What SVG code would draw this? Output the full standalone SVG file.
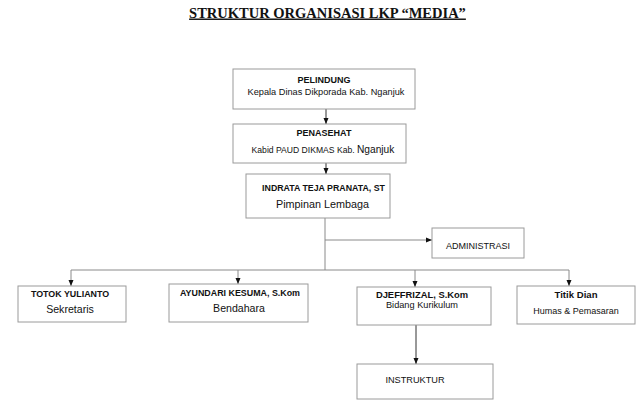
<svg xmlns="http://www.w3.org/2000/svg" width="640" height="403" viewBox="0 0 640 403">
<style>
  .box { fill: #ffffff; stroke: #9a9a9a; stroke-width: 1; }
  .t { font-family: "Liberation Sans", Arial, sans-serif; fill: #111; text-anchor: middle; }
  .b { font-weight: bold; }
  .title { font-family: "Liberation Serif", "Times New Roman", serif; font-weight: bold; font-size: 14.5px; fill: #111; text-anchor: middle; text-decoration: underline; }
  .ln { fill: none; stroke: #8a8a8a; stroke-width: 1; }
  .dk { stroke: #333; }
</style>
<defs>
  <marker id="arr" markerUnits="userSpaceOnUse" markerWidth="6" markerHeight="6" viewBox="0 0 6 6" refX="6" refY="3" orient="auto">
    <path d="M0,0.5 L6,3 L0,5.5 Z" fill="#111"/>
  </marker>
</defs>
<rect width="640" height="403" fill="#ffffff"/>
<text class="title" x="327.5" y="17.5">STRUKTUR ORGANISASI LKP “MEDIA”</text>

<g id="connectors">
  <path class="ln dk" d="M326,109 V124" marker-end="url(#arr)"/>
  <path class="ln dk" d="M326,163 V174" marker-end="url(#arr)"/>
  <path class="ln" d="M325,218 V270"/>
  <path class="ln" d="M325,240 H432" marker-end="url(#arr)"/>
  <path class="ln" d="M71,270 H569"/>
  <path class="ln" d="M71,270 V286" marker-end="url(#arr)"/>
  <path class="ln" d="M238,270 V284" marker-end="url(#arr)"/>
  <path class="ln" d="M415,270 V287" marker-end="url(#arr)"/>
  <path class="ln" d="M569,270 V286" marker-end="url(#arr)"/>
  <path class="ln dk" d="M416,325 V364" marker-end="url(#arr)"/>
</g>

<g id="pelindung">
  <rect class="box" x="233" y="69" width="182" height="40"/>
  <text class="t b" x="324" y="82.5" font-size="9">PELINDUNG</text>
  <text class="t" x="326" y="95" font-size="9.2">Kepala Dinas Dikporada Kab. Nganjuk</text>
</g>
<g id="penasehat">
  <rect class="box" x="233" y="124" width="173" height="39"/>
  <text class="t b" x="324" y="136" font-size="9">PENASEHAT</text>
  <text class="t" x="323" y="152.5" font-size="8.6">Kabid PAUD DIKMAS Kab. <tspan font-size="10.2">Nganjuk</tspan></text>
</g>
<g id="pimpinan">
  <rect class="box" x="246" y="174" width="144" height="44"/>
  <text class="t b" x="323.5" y="191" font-size="8.8">INDRATA TEJA PRANATA, ST</text>
  <text class="t" x="322.5" y="208" font-size="10.8">Pimpinan Lembaga</text>
</g>
<g id="administrasi">
  <rect class="box" x="432" y="228" width="92" height="30"/>
  <text class="t" x="478" y="248.5" font-size="9">ADMINISTRASI</text>
</g>
<g id="sekretaris">
  <rect class="box" x="18" y="286" width="108" height="36"/>
  <text class="t b" x="70" y="296.7" font-size="8.9">TOTOK YULIANTO</text>
  <text class="t" x="70" y="313" font-size="10.6">Sekretaris</text>
</g>
<g id="bendahara">
  <rect class="box" x="169" y="284" width="139" height="38"/>
  <text class="t b" x="240" y="296" font-size="8.9">AYUNDARI KESUMA, S.Kom</text>
  <text class="t" x="239" y="312.3" font-size="10.6">Bendahara</text>
</g>
<g id="kurikulum">
  <rect class="box" x="357" y="287" width="134" height="38"/>
  <text class="t b" x="422" y="298.3" font-size="9.4">DJEFFRIZAL, S.Kom</text>
  <text class="t" x="422" y="307.5" font-size="9.2">Bidang Kurikulum</text>
</g>
<g id="humas">
  <rect class="box" x="517" y="286" width="118" height="38"/>
  <text class="t b" x="576" y="298" font-size="9.6">Titik Dian</text>
  <text class="t" x="576" y="314.3" font-size="9">Humas &amp; Pemasaran</text>
</g>
<g id="instruktur">
  <rect class="box" x="357" y="364" width="136" height="35"/>
  <text class="t" x="415" y="383.3" font-size="9.2">INSTRUKTUR</text>
</g>
</svg>
